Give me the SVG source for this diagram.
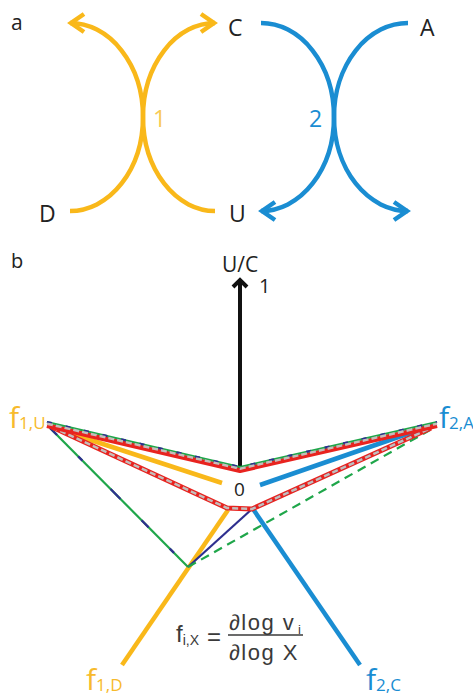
<svg xmlns="http://www.w3.org/2000/svg" width="473" height="699" viewBox="0 0 473 699">
<style>
.lbl{font-family:"Open Sans","DejaVu Sans",sans-serif;fill:#222}
.y{stroke:#F9B81A;fill:none;stroke-width:4.5;stroke-linecap:butt}
.b{stroke:#1A8DD2;fill:none;stroke-width:4.5}
.yt{fill:#F7BA2C}
.bt{fill:#1A8DD2}
.k{stroke:#111;fill:none;stroke-width:4}
.red{stroke:#E8231F;fill:none;stroke-width:5;stroke-linejoin:round}
.gry{stroke:#C4BDBB;fill:none;stroke-width:2.5;stroke-dasharray:6 3;stroke-linejoin:round}
.grn{stroke:#1FA64A;fill:none;stroke-width:2.2;stroke-linejoin:round}
.nvy{stroke:#2E2F8F;fill:none;stroke-width:2.2}
.fx{font-family:"Liberation Sans",Arial,sans-serif;fill:#3a3a3a}
</style>
<rect width="473" height="699" fill="#fff"/>

<g id="panel-labels">
<text class="lbl" x="11" y="30" font-size="21">a</text>
<text class="lbl" x="11" y="268" font-size="20">b</text>
</g>

<g id="connectors-a">
<path class="y" d="M70,23 A73,94 0 0 1 70,211"/>
<path class="y" d="M215,23 A72,94 0 0 0 215,211"/>
<path class="y" d="M84,14 L71,23 L84,32"/>
<path class="y" d="M201,14 L214,23 L201,32"/>
<path class="b" d="M261,23 A73,94 0 0 1 261,211"/>
<path class="b" d="M408,23 A74,94 0 0 0 408,211"/>
<path class="b" d="M275,202 L262,211 L275,220"/>
<path class="b" d="M394,202 L407,211 L394,220"/>
</g>

<g id="node-C"><text class="lbl" x="228" y="36" font-size="23">C</text></g>
<g id="node-A"><text class="lbl" x="420" y="36" font-size="23">A</text></g>
<g id="node-D"><text class="lbl" x="39" y="222" font-size="23">D</text></g>
<g id="node-U"><text class="lbl" x="229" y="222" font-size="23">U</text></g>
<g id="reaction-1"><text x="153" y="127" font-size="23" font-family="Open Sans, sans-serif" fill="#F8CA55">1</text></g>
<g id="reaction-2"><text x="309" y="127" font-size="23" font-family="Open Sans, sans-serif" fill="#1A8DD2">2</text></g>

<g id="connectors-b">
<line class="k" x1="240" y1="281" x2="240" y2="468"/>
<path class="k" d="M233,287 L240,280 L247,287" stroke-width="3.5"/>
<line class="y" x1="228" y1="510" x2="122" y2="665"/>
<line class="b" x1="253" y1="509" x2="360" y2="665"/>
<line class="grn" x1="50" y1="428" x2="188" y2="567"/>
<line class="nvy" x1="50" y1="428" x2="188" y2="567" stroke-dasharray="10 30 6 40 14 30"/>
<line class="nvy" x1="188" y1="567" x2="252" y2="509"/>
<line class="grn" x1="188" y1="567" x2="430" y2="430" stroke-width="2.6" stroke-dasharray="9 6"/>
<line class="y" x1="54" y1="428" x2="222" y2="483"/>
<line class="b" x1="260" y1="485" x2="433" y2="425"/>
<polyline class="red" points="52,427 227,508 252,509 431,428"/>
<polyline class="nvy" points="252,509 431,428" stroke-width="4" stroke-dasharray="4 5"/>
<polyline class="gry" points="52,427 227,508 252,509 431,428"/>
<polyline class="red" points="47,425.5 240,470.5 437,425.5" stroke-width="2"/>
<polyline class="grn" points="47,422 240,467 437,422" stroke-width="2.5"/>
<polyline class="nvy" points="47,422 240,467 437,422" stroke-width="2.5" stroke-dasharray="5 14"/>
<polyline class="gry" points="47,423.7 240,468.7 437,423.7" stroke-width="2.2"/>
</g>

<g id="node-UC"><text class="lbl" x="222" y="272" font-size="21">U/C</text></g>
<g id="tick-1"><text class="lbl" x="259" y="293" font-size="20">1</text></g>
<g id="tick-0"><text class="lbl" x="234" y="496" font-size="19">0</text></g>

<g id="node-f1U"><text class="yt" font-family="Open Sans, sans-serif" x="9" y="428" font-size="30">f<tspan font-size="17" dy="1">1,U</tspan></text></g>
<g id="node-f2A"><text class="bt" font-family="Open Sans, sans-serif" x="439" y="428" font-size="30">f<tspan font-size="17" dy="1">2,A</tspan></text></g>
<g id="node-f1D"><text class="yt" font-family="Open Sans, sans-serif" x="86" y="690" font-size="30">f<tspan font-size="17" dy="1">1,D</tspan></text></g>
<g id="node-f2C"><text class="bt" font-family="Open Sans, sans-serif" x="366" y="690" font-size="30">f<tspan font-size="17" dy="1">2,C</tspan></text></g>

<g id="formula">
<text class="fx" x="176" y="642" font-size="24">f<tspan font-size="14" dy="3">i,X</tspan></text>
<text class="fx" x="207" y="645" font-size="24">=</text>
<text class="fx" x="229" y="630" font-size="22" letter-spacing="1.5">∂log v</text>
<text class="fx" x="298" y="634" font-size="13">i</text>
<line x1="228" y1="635" x2="303" y2="635" stroke="#3a3a3a" stroke-width="1.5"/>
<text class="fx" x="229" y="660" font-size="22" letter-spacing="1.5">∂log X</text>
</g>
</svg>
